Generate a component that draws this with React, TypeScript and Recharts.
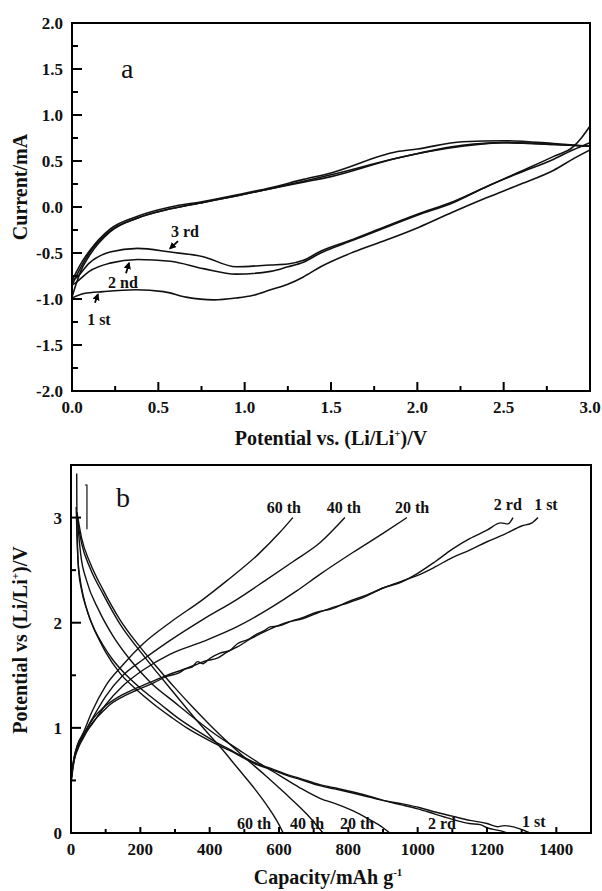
import React from 'react';
import { LineChart, Line, XAxis, YAxis, ReferenceArea, ReferenceLine, ReferenceDot } from 'recharts';

const FONT = '"Liberation Serif", "Times New Roman", serif';

// ---- panel a: cyclic voltammograms, [potential V, current mA] ----
// anodic (upper) and cathodic (lower) branches, both listed with rising potential
const cv1stUp = [
  [0, -0.98], [0.02, -0.86], [0.05, -0.7], [0.1, -0.53], [0.22, -0.27], [0.38, -0.12], [0.57, -0.02],
  [0.76, 0.05], [0.95, 0.12], [1.15, 0.2], [1.34, 0.28], [1.5, 0.35], [1.88, 0.53], [2.26, 0.67],
  [2.5, 0.7], [2.79, 0.68], [3.0, 0.66],
];
const cv1stDown = [
  [0, -0.99], [0.07, -0.94], [0.18, -0.92], [0.37, -0.9], [0.53, -0.92], [0.66, -0.98], [0.82, -1.01],
  [0.95, -0.99], [1.05, -0.96], [1.15, -0.9], [1.25, -0.84], [1.34, -0.76], [1.44, -0.65],
  [1.63, -0.49], [1.82, -0.36], [2.01, -0.22], [2.2, -0.06], [2.4, 0.1], [2.6, 0.25], [2.79, 0.4],
  [2.9, 0.52], [3.0, 0.62],
];
const cv2ndUp = [
  [0, -0.85], [0.05, -0.66], [0.1, -0.5], [0.22, -0.26], [0.38, -0.12], [0.57, -0.02], [0.76, 0.05],
  [0.95, 0.12], [1.15, 0.2], [1.34, 0.27], [1.5, 0.33], [1.88, 0.53], [2.26, 0.66], [2.5, 0.7],
  [2.79, 0.68], [3.0, 0.66],
];
const cv2ndDown = [
  [0, -0.85], [0.03, -0.81], [0.1, -0.7], [0.22, -0.61], [0.38, -0.57], [0.57, -0.59], [0.76, -0.67],
  [0.95, -0.73], [1.15, -0.7], [1.25, -0.65], [1.34, -0.6], [1.44, -0.5], [1.63, -0.36],
  [1.82, -0.22], [2.0, -0.09], [2.21, 0.05], [2.4, 0.22], [2.59, 0.37], [2.79, 0.52], [2.9, 0.62],
  [3.0, 0.7],
];
const cv3rdUp = [
  [0, -0.8], [0.05, -0.62], [0.1, -0.48], [0.22, -0.24], [0.38, -0.1], [0.57, 0], [0.76, 0.06],
  [0.95, 0.13], [1.15, 0.21], [1.34, 0.3], [1.5, 0.37], [1.88, 0.6], [2.0, 0.63], [2.26, 0.71],
  [2.5, 0.72], [2.79, 0.69], [3.0, 0.66],
];
const cv3rdDown = [
  [0, -0.8], [0.03, -0.76], [0.1, -0.61], [0.22, -0.49], [0.38, -0.45], [0.57, -0.49], [0.76, -0.54],
  [0.95, -0.65], [1.15, -0.63], [1.25, -0.62], [1.34, -0.58], [1.44, -0.48], [1.63, -0.35],
  [1.82, -0.21], [2.0, -0.08], [2.21, 0.06], [2.4, 0.22], [2.59, 0.38], [2.79, 0.55], [2.9, 0.65],
  [2.95, 0.75], [3.0, 0.88],
];

const cvXMajor = [0, 0.5, 1, 1.5, 2, 2.5, 3];
const cvXMinor = [0.25, 0.75, 1.25, 1.75, 2.25, 2.75];
const cvYMajor = [-2, -1.5, -1, -0.5, 0, 0.5, 1, 1.5, 2];
const cvYMinor = [-1.75, -1.25, -0.75, -0.25, 0.25, 0.75, 1.25, 1.75];

// ---- panel b: charge / discharge, [capacity mAh/g, potential V] ----
const dis1st = [
  [16.5, 3.42], [17, 3.0], [19, 2.7], [22, 2.5], [30, 2.32], [46, 2.12], [65, 1.95], [84, 1.82],
  [100, 1.72], [141, 1.52], [190, 1.36], [237, 1.23], [290, 1.1], [334, 1.0], [370, 0.93],
  [410, 0.86], [460, 0.78], [500, 0.71], [536, 0.65], [580, 0.6], [620, 0.55], [660, 0.51],
  [718, 0.45], [760, 0.42], [800, 0.39], [850, 0.35], [900, 0.31], [950, 0.28], [1007, 0.24],
  [1050, 0.2], [1100, 0.16], [1151, 0.12], [1200, 0.09], [1230, 0.06], [1250, 0.07], [1295, 0.04],
  [1324, 0],
];
const dis2rd = [
  [15, 3.1], [17, 2.85], [20, 2.6], [26, 2.42], [35, 2.26], [50, 2.08], [70, 1.92], [90, 1.8],
  [120, 1.65], [160, 1.5], [210, 1.35], [260, 1.22], [310, 1.09], [360, 0.98], [415, 0.87],
  [460, 0.79], [500, 0.72], [536, 0.66], [580, 0.61], [620, 0.56], [660, 0.52], [718, 0.46],
  [760, 0.43], [800, 0.4], [850, 0.36], [900, 0.31], [950, 0.27], [1000, 0.23], [1050, 0.18],
  [1100, 0.13], [1150, 0.09], [1180, 0.08], [1200, 0.05], [1240, 0.02], [1258, 0],
];
const dis20th = [
  [18, 3.05], [22, 2.85], [28, 2.65], [45, 2.4], [80, 2.12], [120, 1.88], [170, 1.65], [230, 1.43],
  [300, 1.24], [360, 1.08], [420, 0.93], [480, 0.8], [540, 0.67], [600, 0.55], [660, 0.43],
  [718, 0.33], [770, 0.27], [814, 0.21], [860, 0.13], [900, 0.05], [920, 0],
];
const dis40th = [
  [20, 3.0], [25, 2.9], [31, 2.8], [55, 2.57], [93, 2.31], [141, 2.03], [199, 1.77], [250, 1.57],
  [300, 1.38], [350, 1.2], [400, 1.03], [450, 0.87], [500, 0.72], [560, 0.55], [620, 0.37],
  [680, 0.18], [727, 0],
];
const dis60th = [
  [20, 2.95], [25, 2.85], [31, 2.75], [55, 2.52], [93, 2.27], [141, 1.99], [199, 1.73], [250, 1.52],
  [300, 1.32], [350, 1.12], [400, 0.93], [430, 0.82], [480, 0.62], [530, 0.42], [570, 0.24],
  [600, 0.08], [612, 0],
];
const chg1st = [
  [0, 0.45], [5, 0.6], [10, 0.7], [20, 0.8], [35, 0.9], [60, 1.04], [93, 1.16], [112, 1.22],
  [140, 1.28], [190, 1.36], [240, 1.43], [276, 1.49], [310, 1.52], [330, 1.56], [350, 1.58],
  [365, 1.63], [380, 1.61], [400, 1.66], [430, 1.71], [460, 1.74], [480, 1.8], [510, 1.84],
  [530, 1.88], [560, 1.93], [574, 1.96], [600, 1.97], [640, 2.02], [670, 2.05], [709, 2.1],
  [750, 2.13], [800, 2.2], [850, 2.26], [900, 2.33], [958, 2.4], [1000, 2.45], [1050, 2.53],
  [1100, 2.62], [1150, 2.69], [1200, 2.77], [1250, 2.84], [1300, 2.92], [1330, 2.95], [1347, 3.0],
];
const chg2rd = [
  [0, 0.5], [5, 0.63], [10, 0.72], [20, 0.82], [35, 0.92], [60, 1.07], [93, 1.19], [140, 1.3],
  [190, 1.38], [240, 1.45], [276, 1.5], [320, 1.55], [360, 1.6], [390, 1.64], [420, 1.66],
  [450, 1.72], [480, 1.77], [520, 1.85], [574, 1.94], [620, 2.0], [670, 2.04], [709, 2.09],
  [760, 2.15], [800, 2.19], [850, 2.25], [900, 2.33], [948, 2.38], [1000, 2.47], [1050, 2.58],
  [1100, 2.7], [1150, 2.8], [1200, 2.88], [1240, 2.95], [1260, 2.94], [1275, 3.0],
];
const chg20th = [
  [0, 0.5], [8, 0.68], [20, 0.82], [35, 0.92], [60, 1.03], [100, 1.22], [150, 1.4], [208, 1.55],
  [285, 1.7], [380, 1.82], [478, 1.96], [580, 2.15], [650, 2.3], [718, 2.46], [814, 2.67],
  [900, 2.85], [969, 3.0],
];
const chg40th = [
  [0, 0.5], [8, 0.7], [20, 0.85], [35, 0.93], [60, 1.08], [100, 1.3], [150, 1.5], [208, 1.65],
  [285, 1.83], [380, 2.03], [478, 2.22], [560, 2.4], [640, 2.58], [718, 2.76], [790, 3.0],
];
const chg60th = [
  [0, 0.5], [8, 0.7], [20, 0.85], [35, 0.95], [60, 1.15], [100, 1.4], [150, 1.6], [208, 1.8],
  [285, 2.0], [380, 2.22], [450, 2.4], [540, 2.65], [600, 2.85], [640, 3.0],
];
const bracket = [[40, 3.31], [46, 3.31], [46, 2.89]];

const gcXMajor = [0, 200, 400, 600, 800, 1000, 1200, 1400];
const gcXMinor = [100, 300, 500, 700, 900, 1100, 1300];
const gcYMajor = [0, 1, 2, 3];
const gcYMinor = [0.5, 1.5, 2.5];

const toPts = (rows: number[][]) => rows.map(([x, y]) => ({ x, y }));

const BottomTick = ({ x, y, payload, major, digits, len }: any) => {
  const isMajor = major.includes(payload.value);
  return (
    <g>
      <line x1={x} x2={x} y1={y} y2={y - (isMajor ? len[0] : len[1])} stroke="#000" strokeWidth={2} />
      {isMajor && (
        <text x={x} y={y + 22} textAnchor="middle" fontFamily={FONT} fontWeight="bold" fontSize={17} fill="#111">
          {payload.value.toFixed(digits)}
        </text>
      )}
    </g>
  );
};

const LeftTick = ({ x, y, payload, major, digits, len }: any) => {
  const isMajor = major.includes(payload.value);
  return (
    <g>
      <line x1={x} x2={x + (isMajor ? len[0] : len[1])} y1={y} y2={y} stroke="#000" strokeWidth={2} />
      {isMajor && (
        <text x={x - 9} y={y + 6} textAnchor="end" fontFamily={FONT} fontWeight="bold" fontSize={17} fill="#111">
          {payload.value.toFixed(digits)}
        </text>
      )}
    </g>
  );
};

const Tag = ({ cx, cy, text, size = 16, bold = true }: any) => (
  <text x={cx} y={cy} textAnchor="middle" dominantBaseline="central" fontFamily={FONT}
    fontWeight={bold ? 'bold' : 'normal'} fontSize={size} fill="#111">
    {text}
  </text>
);

const axisLine = { stroke: '#000', strokeWidth: 2 };
const curve = (rows: number[][], key: string, w = 1.6, type: any = 'monotone') => (
  <Line key={key} data={toPts(rows)} dataKey="y" type={type} dot={false} stroke="#111"
    strokeWidth={w} isAnimationActive={false} />
);

const Arrow = ({ from, to }: any) => (
  <ReferenceLine segment={[from, to]} stroke="#000" strokeWidth={1.8} markerEnd="url(#ah)" />
);

const title: React.CSSProperties = {
  position: 'absolute', fontFamily: FONT, fontWeight: 'bold', fontSize: 20, color: '#111',
  whiteSpace: 'nowrap', lineHeight: 1,
};

export default function App() {
  return (
    <div style={{ position: 'absolute', left: 0, top: 0, width: 602, height: 891, background: '#fff' }}>
      <div style={{ position: 'absolute', left: 0, top: 0 }}>
        <LineChart width={602} height={450} margin={{ top: 23, right: 12, bottom: 0, left: 0 }}>
          <defs>
            <marker id="ah" viewBox="0 0 10 10" refX="8" refY="5" markerWidth="4" markerHeight="4" orient="auto">
              <path d="M0,0 L10,5 L0,10 z" fill="#000" />
            </marker>
          </defs>
          <XAxis type="number" dataKey="x" domain={[0, 3]} allowDataOverflow ticks={[...cvXMajor, ...cvXMinor]}
            interval={0} height={59} tickSize={0} tickMargin={0} tickLine={false} axisLine={axisLine}
            tick={<BottomTick major={cvXMajor} digits={1} len={[9, 5]} />} />
          <YAxis type="number" domain={[-2, 2]} allowDataOverflow ticks={[...cvYMajor, ...cvYMinor]}
            interval={0} width={72} tickSize={0} tickMargin={0} tickLine={false} axisLine={axisLine}
            tick={<LeftTick major={cvYMajor} digits={1} len={[10, 6]} />} />
          <ReferenceArea x1={0} x2={3} y1={-2} y2={2} fill="none" stroke="#000" strokeWidth={2} />
          {curve(cv1stUp, 'cv1u')}
          {curve(cv1stDown, 'cv1d')}
          {curve(cv2ndUp, 'cv2u')}
          {curve(cv2ndDown, 'cv2d')}
          {curve(cv3rdUp, 'cv3u')}
          {curve(cv3rdDown, 'cv3d')}
          <ReferenceDot x={0.32} y={1.51} r={0} shape={<Tag text="a" size={28} bold={false} />} />
          <ReferenceDot x={0.654} y={-0.27} r={0} shape={<Tag text="3 rd" />} />
          <ReferenceDot x={0.295} y={-0.82} r={0} shape={<Tag text="2 nd" />} />
          <ReferenceDot x={0.156} y={-1.22} r={0} shape={<Tag text="1 st" />} />
          <Arrow from={{ x: 0.614, y: -0.37 }} to={{ x: 0.568, y: -0.45 }} />
          <Arrow from={{ x: 0.313, y: -0.72 }} to={{ x: 0.33, y: -0.61 }} />
          <Arrow from={{ x: 0.133, y: -1.04 }} to={{ x: 0.15, y: -0.95 }} />
        </LineChart>
      </div>
      <div style={{ ...title, left: 20, top: 187, transform: 'translate(-50%, -50%) rotate(-90deg)' }}>
        Current/mA
      </div>
      <div style={{ ...title, left: 331, top: 438, transform: 'translate(-50%, -50%)' }}>
        Potential vs. (Li/Li<sup style={{ fontSize: '0.55em' }}>+</sup>)/V
      </div>

      <div style={{ position: 'absolute', left: 0, top: 450 }}>
        <LineChart width={602} height={441} margin={{ top: 15, right: 11, bottom: 0, left: 0 }}>
          <XAxis type="number" dataKey="x" domain={[0, 1500]} allowDataOverflow ticks={[...gcXMajor, ...gcXMinor]}
            interval={0} height={58} tickSize={0} tickMargin={0} tickLine={false} axisLine={axisLine}
            tick={<BottomTick major={gcXMajor} digits={0} len={[6, 4]} />} />
          <YAxis type="number" domain={[0, 3.5]} allowDataOverflow ticks={[...gcYMajor, ...gcYMinor]}
            interval={0} width={71} tickSize={0} tickMargin={0} tickLine={false} axisLine={axisLine}
            tick={<LeftTick major={gcYMajor} digits={0} len={[10, 5]} />} />
          <ReferenceArea x1={0} x2={1500} y1={0} y2={3.5} fill="none" stroke="#000" strokeWidth={2} />
          {curve(dis1st, 'd1', 1.4)}
          {curve(dis2rd, 'd2', 1.4)}
          {curve(dis20th, 'd20', 1.4)}
          {curve(dis40th, 'd40', 1.4)}
          {curve(dis60th, 'd60', 1.4)}
          {curve(chg1st, 'c1', 1.4)}
          {curve(chg2rd, 'c2', 1.4)}
          {curve(chg20th, 'c20', 1.4)}
          {curve(chg40th, 'c40', 1.4)}
          {curve(chg60th, 'c60', 1.4)}
          {curve(bracket, 'br', 1.2, 'linear')}
          <ReferenceDot x={150} y={3.19} r={0} shape={<Tag text="b" size={28} bold={false} />} />
          <ReferenceDot x={614} y={3.1} r={0} shape={<Tag text="60 th" />} />
          <ReferenceDot x={787} y={3.1} r={0} shape={<Tag text="40 th" />} />
          <ReferenceDot x={984} y={3.1} r={0} shape={<Tag text="20 th" />} />
          <ReferenceDot x={1260} y={3.12} r={0} shape={<Tag text="2 rd" />} />
          <ReferenceDot x={1370} y={3.12} r={0} shape={<Tag text="1 st" />} />
          <ReferenceDot x={528} y={0.095} r={0} shape={<Tag text="60 th" />} />
          <ReferenceDot x={681} y={0.095} r={0} shape={<Tag text="40 th" />} />
          <ReferenceDot x={825} y={0.095} r={0} shape={<Tag text="20 th" />} />
          <ReferenceDot x={1070} y={0.095} r={0} shape={<Tag text="2 rd" />} />
          <ReferenceDot x={1335} y={0.105} r={0} shape={<Tag text="1 st" />} />
        </LineChart>
      </div>
      <div style={{ ...title, left: 20, top: 640, transform: 'translate(-50%, -50%) rotate(-90deg)' }}>
        Potential vs (Li/Li<sup style={{ fontSize: '0.55em' }}>+</sup>)/V
      </div>
      <div style={{ ...title, left: 328, top: 877, transform: 'translate(-50%, -50%)' }}>
        Capacity/mAh g<sup style={{ fontSize: '0.55em' }}>-1</sup>
      </div>
    </div>
  );
}
